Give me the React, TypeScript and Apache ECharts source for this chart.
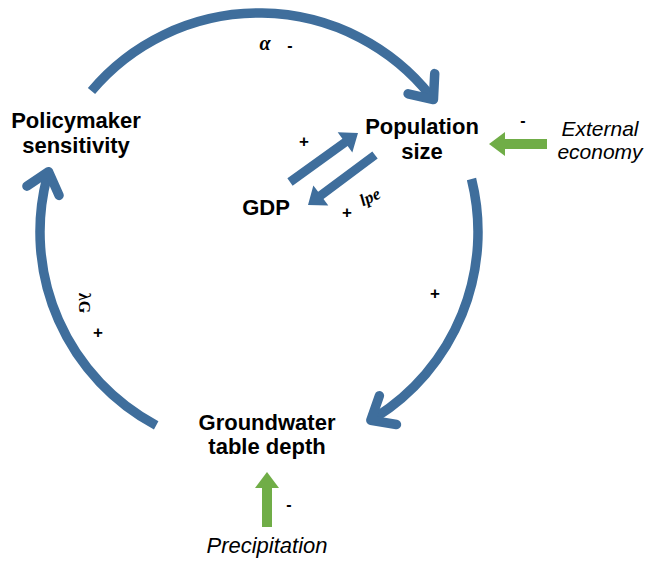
import React, { useEffect, useRef } from "react";
import * as echarts from "echarts";

// ---- diagram content ----
const nodeLabels = ["Policymaker\nsensitivity", "Population\nsize", "GDP", "Groundwater\ntable depth"];
const driverLabels = ["External\neconomy", "Precipitation"];
const loopSigns = ["-", "+", "+"]; // top arc, right arc, left arc
const innerSigns = ["+", "+"]; // GDP->Population, Population->GDP
const driverSigns = ["-", "-"]; // External economy, Precipitation
const parameterLabels = ["α", "lpe", "λG"];

const BLUE = "#3f6e9c";
const GREEN = "#70ad47";
const SANS = "'Liberation Sans', Arial, sans-serif";
const SERIF = "'Liberation Serif', 'DejaVu Serif', serif";

const CX = 259, CY = 232, R = 219;
const D = Math.PI / 180;

function arcPoint(a: number) {
  return [CX + R * Math.cos(a * D), CY + R * Math.sin(a * D)];
}

function chevron(aDeg: number, len = 26, spread = 40) {
  const t = aDeg * D;
  const tip = arcPoint(aDeg);
  const bx = Math.sin(t), by = -Math.cos(t);
  const rot = (s: number) => {
    const c = Math.cos(s * D), n = Math.sin(s * D);
    return [tip[0] + len * (bx * c - by * n), tip[1] + len * (bx * n + by * c)];
  };
  return [rot(spread), tip, rot(-spread)];
}

function blockArrow(x1: number, y1: number, x2: number, y2: number, sw: number, hw: number, hl: number) {
  const dx = x2 - x1, dy = y2 - y1;
  const L = Math.hypot(dx, dy);
  const ux = dx / L, uy = dy / L;
  const nx = -uy, ny = ux;
  const bx = x2 - ux * hl, by = y2 - uy * hl;
  return [
    [x1 + nx * sw / 2, y1 + ny * sw / 2],
    [bx + nx * sw / 2, by + ny * sw / 2],
    [bx + nx * hw / 2, by + ny * hw / 2],
    [x2, y2],
    [bx - nx * hw / 2, by - ny * hw / 2],
    [bx - nx * sw / 2, by - ny * sw / 2],
    [x1 - nx * sw / 2, y1 - ny * sw / 2],
  ];
}

function arcEl(start: number, end: number) {
  return {
    type: "arc",
    shape: { cx: CX, cy: CY, r: R, startAngle: start * D, endAngle: end * D, clockwise: true },
    style: { stroke: BLUE, lineWidth: 9.5, fill: null },
  };
}

function chevEl(a: number) {
  return {
    type: "polyline",
    shape: { points: chevron(a) },
    style: { stroke: BLUE, lineWidth: 9.5, lineCap: "round", lineJoin: "round", fill: null },
  };
}

function textEl(text: string, x: number, y: number, font: string, lineHeight = 25, rotation = 0) {
  return {
    type: "text",
    x,
    y,
    rotation,
    style: {
      text,
      font,
      fill: "#000",
      align: "center",
      verticalAlign: "middle",
      textAlign: "center",
      textVerticalAlign: "middle",
      lineHeight,
    },
  };
}

export default function App() {
  const ref = useRef<HTMLDivElement>(null);
  useEffect(() => {
    if (!ref.current) return;
    const chart = echarts.init(ref.current, undefined, { renderer: "svg" });
    const elements: any[] = [
      // big loop
      arcEl(-139.9, -38.5),
      chevEl(-37.2),
      arcEl(-14, 58),
      chevEl(59.3),
      arcEl(118, 194.5),
      chevEl(196),
      // inner block arrows
      { type: "polygon", shape: { points: blockArrow(290, 182, 358, 133, 9, 25, 16) }, style: { fill: BLUE } },
      { type: "polygon", shape: { points: blockArrow(375, 155, 308, 205, 9, 25, 16) }, style: { fill: BLUE } },
      // driver arrows
      { type: "polygon", shape: { points: blockArrow(547, 144, 489, 144, 10, 24, 16) }, style: { fill: GREEN } },
      { type: "polygon", shape: { points: blockArrow(267, 527, 267, 472, 10, 24, 16) }, style: { fill: GREEN } },
      // node labels
      textEl(nodeLabels[0], 76, 133, `bold 22px ${SANS}`),
      textEl(nodeLabels[1], 422, 139, `bold 22px ${SANS}`),
      textEl(nodeLabels[2], 266, 207, `bold 22px ${SANS}`),
      textEl(nodeLabels[3], 267, 434, `bold 22px ${SANS}`, 24),
      // driver labels
      textEl(driverLabels[0], 600, 140, `italic 21px ${SANS}`, 23),
      textEl(driverLabels[1], 267, 545, `italic 22px ${SANS}`),
      // signs
      textEl(loopSigns[0], 290, 45, `bold 16px ${SANS}`),
      textEl(loopSigns[1], 435, 293, `bold 17px ${SANS}`),
      textEl(loopSigns[2], 98, 332, `bold 17px ${SANS}`),
      textEl(innerSigns[0], 304, 141, `bold 17px ${SANS}`),
      textEl(innerSigns[1], 347, 212, `bold 17px ${SANS}`),
      textEl(driverSigns[0], 523, 120, `bold 16px ${SANS}`),
      textEl(driverSigns[1], 289, 504, `bold 16px ${SANS}`),
      // parameters
      textEl(parameterLabels[0], 265, 43, `bold italic 20px ${SERIF}`),
      textEl(parameterLabels[1], 370, 197, `bold italic 17px ${SERIF}`, 20, 0.45),
      textEl(parameterLabels[2], 84, 303, `bold 16px ${SERIF}`, 20, -Math.PI / 2),
    ];
    chart.setOption({
      animation: false,
      backgroundColor: "#ffffff",
      graphic: { elements },
    });
    return () => chart.dispose();
  }, []);
  return (
    <div
      ref={ref}
      style={{ position: "fixed", left: 0, top: 0, width: 649, height: 564, background: "#fff" }}
    />
  );
}
